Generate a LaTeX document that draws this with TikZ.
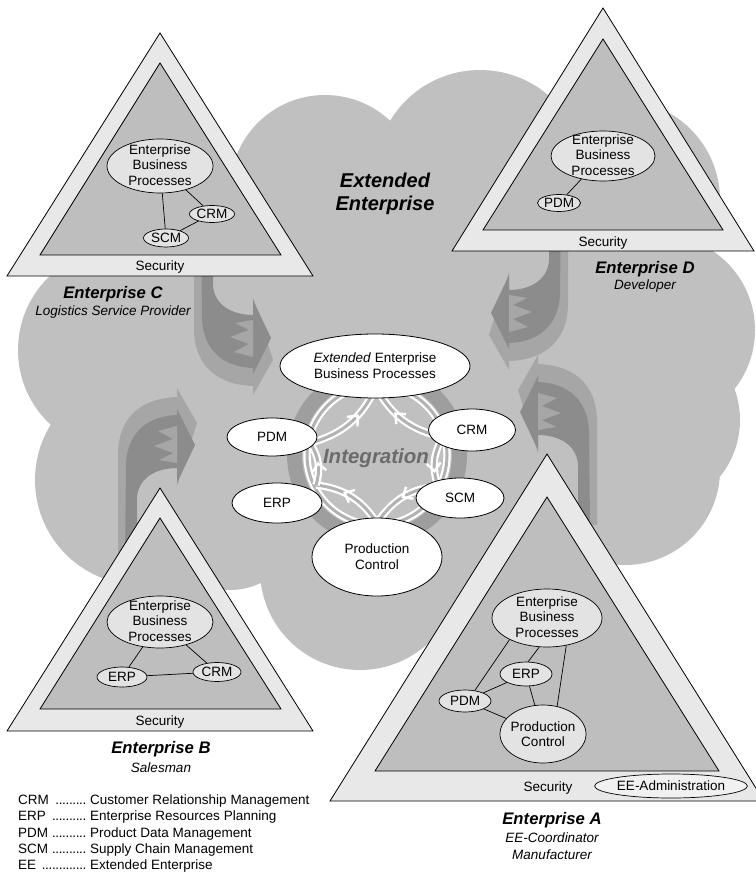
\documentclass[tikz,border=0pt]{standalone}
\usepackage{fontspec}
\setmainfont{Liberation Sans}
\usetikzlibrary{shapes.geometric,decorations.markings}

\definecolor{cloudgray}{gray}{0.753}
\definecolor{bandgray}{gray}{0.91}
\definecolor{innergray}{gray}{0.745}
\definecolor{bubblegray}{gray}{0.89}
\definecolor{arrowdark}{gray}{0.55}
\definecolor{arrowlight}{gray}{0.65}
\definecolor{ringdark}{gray}{0.62}
\definecolor{ringmid}{gray}{0.70}
\definecolor{integgray}{gray}{0.42}

% dotted leader for the abbreviation list
\newcommand\legdots{\leaders\hbox to 3.4pt{\hss.\hss}\hfill}
\newcommand\legitem[1]{\makebox[72pt][l]{#1\ \legdots\kern1pt}}

% curved block arrow with shadow and notched tail, drawn for the upper-left enterprise
\newcommand\swoosh{%
  \fill[arrowlight] (194,225) -- (194,330) .. controls (195,370) and (222,385) .. (253,386)
     -- (253,395) -- (273,360) -- (253,297) -- (253,330)
     .. controls (232,330) and (209,318) .. (208,290) -- (208,225) -- cycle;
  \fill[arrowdark] (201,225) -- (202,320) .. controls (204,352) and (225,367) .. (253,368)
     -- (253,374) -- (271,338) -- (253,300) -- (253,315)
     .. controls (232,315) and (214,305) .. (213,285) -- (213,225) -- cycle;
  \fill[arrowlight] (253,320) -- (235,323) -- (249,330) -- (230,337) -- (249,344)
     -- (234,352) -- (253,357) -- cycle;
}

\begin{document}
\begin{tikzpicture}[x=1pt,y=-1pt,
  txt/.style={font=\fontsize{13.5}{16}\selectfont, align=center, inner sep=0pt},
  ttext/.style={font=\fontsize{13.5}{15.5}\selectfont, align=center, inner sep=0pt},
  bubble/.style={ellipse, draw=black, line width=0.7pt, fill=bubblegray, inner sep=0pt, txt},
  whitebubble/.style={ellipse, draw=black, line width=0.8pt, fill=white, inner sep=0pt, txt},
  outertri/.style={draw=black, line width=0.8pt, fill=bandgray, line join=miter},
  innertri/.style={draw=black, line width=0.8pt, fill=innergray},
  link/.style={draw=black, line width=0.7pt},
  entname/.style={font=\fontsize{16.7}{20}\selectfont\bfseries\itshape, inner sep=0pt},
  entrole/.style={font=\fontsize{13.5}{17}\selectfont\itshape, align=center, inner sep=0pt},
  wline/.style={draw=white, line width=2.2pt, double=ringmid, double distance=3pt},
  chev/.style={postaction={decorate, decoration={markings,
      mark=at position #1 with {\draw[white, line width=2.4pt, line join=miter]
        (-8pt,7pt) -- (0pt,0pt) -- (-8pt,-7pt);}}}},
  legend/.style={font=\fontsize{13.5}{16}\selectfont, inner sep=0pt, anchor=west}
]
\useasboundingbox (0,0) rectangle (755,874);
\fill[white] (0,0) rectangle (755,874);

% ---- the cloud of the extended enterprise ----
\fill[cloudgray]
  (325,190) circle[radius=95pt]
  (480,175) circle[radius=105pt]
  (620,200) circle[radius=100pt]
  (660,330) circle[radius=95pt]
  (650,420) circle[radius=90pt]
  (625,470) circle[radius=95pt]
  (120,350) circle[radius=102pt]
  (140,480) circle[radius=105pt]
  (380,380) ellipse[x radius=240pt, y radius=230pt]
  (360,570) circle[radius=100pt]
  (230,520) circle[radius=70pt];

% ---- curved arrows from each enterprise into the cloud ----
\begin{scope}\swoosh\end{scope}
\begin{scope}[shift={(762,-25)}, xscale=-1]\swoosh\end{scope}
\begin{scope}[shift={(-76,783)}, yscale=-1]\swoosh\end{scope}
\begin{scope}[shift={(791,750)}, xscale=-1, yscale=-1]\swoosh\end{scope}

% ---- integration ring ----
\fill[ringdark, even odd rule] (377,455) circle[radius=90pt] (377,455) circle[radius=75pt];
\draw[wline] (377,455) circle[radius=70pt];

\coordinate (rEEBP) at (376,387);
\coordinate (rCRM)  at (443,437);
\coordinate (rSCM)  at (438,486);
\coordinate (rPC)   at (377,523);
\coordinate (rERP)  at (316,485);
\coordinate (rPDM)  at (310,443);

\draw[wline] (rPDM) to[bend right=25] (rEEBP);
\draw[wline] (rCRM) to[bend left=25] (rEEBP);
\draw[wline] (rCRM) to[bend right=25] (rSCM);
\draw[wline] (rSCM) to[bend right=25] (rPC);
\draw[wline] (rPC)  to[bend right=25] (rERP);
\draw[wline] (rERP) to[bend right=25] (rPDM);

\path[chev=0.62] (rPDM) to[bend right=25] (rEEBP);
\path[chev=0.62] (rCRM) to[bend left=25] (rEEBP);
\path[chev=0.7] (rCRM) to[bend right=25] (rSCM);
\path[chev=0.5] (rSCM) to[bend right=25] (rPC);
\path[chev=0.6] (rPC)  to[bend right=25] (rERP);
\path[chev=0.5] (rERP) to[bend right=25] (rPDM);

% ---- central processes ----
\node[whitebubble, minimum width=190pt, minimum height=64pt] (eebp) at (375,366)
  {\textit{Extended} Enterprise\\Business Processes};
\node[whitebubble, minimum width=90pt, minimum height=38pt] (pdm) at (272,437) {PDM};
\node[whitebubble, minimum width=87pt, minimum height=42pt] (crm) at (472,430) {CRM};
\node[whitebubble, minimum width=90pt, minimum height=40pt] (erp) at (277,503) {ERP};
\node[whitebubble, minimum width=88pt, minimum height=40pt] (scm) at (460,498) {SCM};
\node[whitebubble, minimum width=130pt, minimum height=78pt] (pc) at (377,557) {Production\\Control};

\node[font=\fontsize{20.5}{24}\selectfont\bfseries\itshape, text=integgray, inner sep=0pt]
  (integ) at (376,458) {Integration};

\node[font=\fontsize{20}{23}\selectfont\bfseries\itshape, align=center, inner sep=0pt]
  (ee) at (385,194) {Extended\\Enterprise};

% ---- Enterprise C ----
\filldraw[outertri] (160,33) -- (7,276) -- (313,276) -- cycle;
\filldraw[innertri] (160,63) -- (40,255) -- (281,255) -- cycle;
\node[txt] (secC) at (160,267) {Security};
\node[bubble, minimum width=106pt, minimum height=54pt] (ebpC) at (160,166) {};
\node[ttext] (ebpCt) at (160,165) {Enterprise\\Business\\Processes};
\node[bubble, minimum width=45pt, minimum height=17pt] (crmC) at (212,214) {CRM};
\node[bubble, minimum width=45pt, minimum height=18pt] (scmC) at (166,238) {SCM};
\draw[link] (ebpC) -- (scmC);
\draw[link] (ebpC) -- (crmC);
\draw[link] (scmC) -- (crmC);
\node[entname] (nameC) at (113,294) {Enterprise C};
\node[entrole] (roleC) at (113,312) {Logistics Service Provider};

% ---- Enterprise D ----
\filldraw[outertri] (603,8) -- (452,251) -- (754,251) -- cycle;
\filldraw[innertri] (603,39) -- (483,230) -- (723,230) -- cycle;
\node[txt] (secD) at (603,243) {Security};
\node[bubble, minimum width=104pt, minimum height=50pt] (ebpD) at (603,156) {};
\node[ttext] (ebpDt) at (603,155) {Enterprise\\Business\\Processes};
\node[bubble, minimum width=43pt, minimum height=17pt] (pdmD) at (559,203) {PDM};
\draw[link] (ebpD) -- (pdmD);
\node[entname] (nameD) at (645,269) {Enterprise D};
\node[entrole] (roleD) at (645,286) {Developer};

% ---- Enterprise B ----
\filldraw[outertri] (160,488) -- (7,731) -- (313,731) -- cycle;
\filldraw[innertri] (160,518) -- (40,709) -- (281,709) -- cycle;
\node[txt] (secB) at (160,722) {Security};
\node[bubble, minimum width=106pt, minimum height=52pt] (ebpB) at (160,622) {};
\node[ttext] (ebpBt) at (160,621) {Enterprise\\Business\\Processes};
\node[bubble, minimum width=50pt, minimum height=20pt] (erpB) at (122,677) {ERP};
\node[bubble, minimum width=48pt, minimum height=19pt] (crmB) at (217,672) {CRM};
\draw[link] (ebpB) -- (erpB);
\draw[link] (ebpB) -- (crmB);
\draw[link] (erpB) -- (crmB);
\node[entname] (nameB) at (161,749) {Enterprise B};
\node[entrole] (roleB) at (161,768) {Salesman};

% ---- Enterprise A ----
\filldraw[outertri] (547,454) -- (330,801) -- (764,801) -- cycle;
\filldraw[innertri] (547,497) -- (375,771) -- (719,771) -- cycle;
\node[txt] (secA) at (548,788) {Security};
\node[ellipse, draw=black, line width=0.7pt, fill=bandgray!60!white, inner sep=0pt, txt,
  minimum width=152pt, minimum height=24pt] (eeadm) at (671,786) {EE-Administration};
\node[bubble, minimum width=110pt, minimum height=58pt] (ebpA) at (547,618) {};
\node[ttext] (ebpAt) at (547,617) {Enterprise\\Business\\Processes};
\node[bubble, minimum width=52pt, minimum height=24pt] (erpA) at (526,674) {ERP};
\node[bubble, minimum width=52pt, minimum height=22pt] (pdmA) at (465,701) {PDM};
\node[bubble, minimum width=86pt, minimum height=58pt] (pcA) at (543,734) {};
\node[ttext] (pcAt) at (543,734) {Production\\Control};
\draw[link] (ebpA.210) -- (pdmA.47);
\draw[link] (ebpA.-105) -- (erpA.80);
\draw[link] (ebpA.-55) -- (pcA.63);
\draw[link] (pdmA) -- (erpA);
\draw[link] (pdmA) -- (pcA);
\draw[link] (erpA) -- (pcA);
\node[entname] (nameA) at (552,820) {Enterprise A};
\node[entrole] (roleA) at (552,846) {EE-Coordinator\\Manufacturer};

% ---- abbreviations ----
\node[legend] (lg1) at (18,801) {\legitem{CRM}Customer Relationship Management};
\node[legend] (lg2) at (18,817) {\legitem{ERP}Enterprise Resources Planning};
\node[legend] (lg3) at (18,834) {\legitem{PDM}Product Data Management};
\node[legend] (lg4) at (18,850) {\legitem{SCM}Supply Chain Management};
\node[legend] (lg5) at (18,866) {\legitem{EE}Extended Enterprise};
\end{tikzpicture}
\end{document}
